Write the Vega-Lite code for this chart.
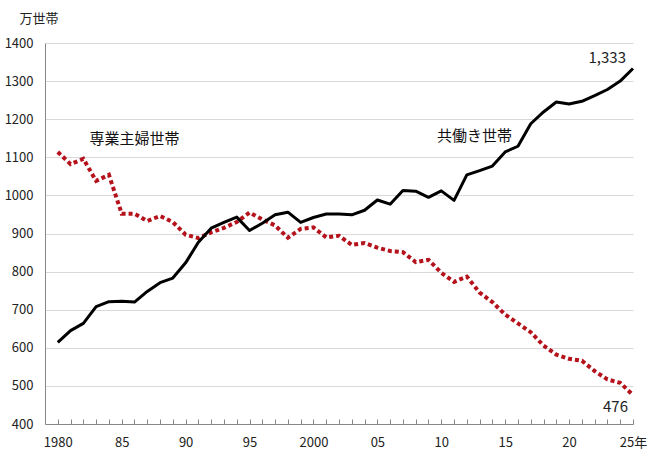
{
  "$schema": "https://vega.github.io/schema/vega-lite/v6.json",
  "width": 588,
  "height": 381,
  "autosize": {"type": "none"},
  "padding": {"left": 45, "top": 43, "right": 28, "bottom": 43},
  "background": "white",
  "config": {
    "view": {"stroke": null},
    "font": "Noto Sans CJK JP",
    "axis": {"labelFont": "Noto Sans CJK JP", "titleFont": "Noto Sans CJK JP"}
  },
  "datasets": {
    "households": [
      {"year": 1980, "series": "共働き世帯", "value": 614},
      {"year": 1981, "series": "共働き世帯", "value": 645},
      {"year": 1982, "series": "共働き世帯", "value": 664},
      {"year": 1983, "series": "共働き世帯", "value": 708},
      {"year": 1984, "series": "共働き世帯", "value": 721},
      {"year": 1985, "series": "共働き世帯", "value": 722},
      {"year": 1986, "series": "共働き世帯", "value": 720},
      {"year": 1987, "series": "共働き世帯", "value": 748},
      {"year": 1988, "series": "共働き世帯", "value": 771},
      {"year": 1989, "series": "共働き世帯", "value": 783},
      {"year": 1990, "series": "共働き世帯", "value": 823},
      {"year": 1991, "series": "共働き世帯", "value": 877},
      {"year": 1992, "series": "共働き世帯", "value": 914},
      {"year": 1993, "series": "共働き世帯", "value": 929},
      {"year": 1994, "series": "共働き世帯", "value": 943},
      {"year": 1995, "series": "共働き世帯", "value": 908},
      {"year": 1996, "series": "共働き世帯", "value": 927},
      {"year": 1997, "series": "共働き世帯", "value": 949},
      {"year": 1998, "series": "共働き世帯", "value": 956},
      {"year": 1999, "series": "共働き世帯", "value": 929},
      {"year": 2000, "series": "共働き世帯", "value": 942},
      {"year": 2001, "series": "共働き世帯", "value": 951},
      {"year": 2002, "series": "共働き世帯", "value": 951},
      {"year": 2003, "series": "共働き世帯", "value": 949},
      {"year": 2004, "series": "共働き世帯", "value": 961},
      {"year": 2005, "series": "共働き世帯", "value": 988},
      {"year": 2006, "series": "共働き世帯", "value": 977},
      {"year": 2007, "series": "共働き世帯", "value": 1013},
      {"year": 2008, "series": "共働き世帯", "value": 1011},
      {"year": 2009, "series": "共働き世帯", "value": 995},
      {"year": 2010, "series": "共働き世帯", "value": 1012},
      {"year": 2011, "series": "共働き世帯", "value": 987},
      {"year": 2012, "series": "共働き世帯", "value": 1054},
      {"year": 2013, "series": "共働き世帯", "value": 1065},
      {"year": 2014, "series": "共働き世帯", "value": 1077},
      {"year": 2015, "series": "共働き世帯", "value": 1114},
      {"year": 2016, "series": "共働き世帯", "value": 1129},
      {"year": 2017, "series": "共働き世帯", "value": 1188},
      {"year": 2018, "series": "共働き世帯", "value": 1219},
      {"year": 2019, "series": "共働き世帯", "value": 1245},
      {"year": 2020, "series": "共働き世帯", "value": 1240},
      {"year": 2021, "series": "共働き世帯", "value": 1247},
      {"year": 2022, "series": "共働き世帯", "value": 1262},
      {"year": 2023, "series": "共働き世帯", "value": 1278},
      {"year": 2024, "series": "共働き世帯", "value": 1300},
      {"year": 2025, "series": "共働き世帯", "value": 1333},
      {"year": 1980, "series": "専業主婦世帯", "value": 1114},
      {"year": 1981, "series": "専業主婦世帯", "value": 1082},
      {"year": 1982, "series": "専業主婦世帯", "value": 1096},
      {"year": 1983, "series": "専業主婦世帯", "value": 1038},
      {"year": 1984, "series": "専業主婦世帯", "value": 1054},
      {"year": 1985, "series": "専業主婦世帯", "value": 952},
      {"year": 1986, "series": "専業主婦世帯", "value": 952},
      {"year": 1987, "series": "専業主婦世帯", "value": 933},
      {"year": 1988, "series": "専業主婦世帯", "value": 946},
      {"year": 1989, "series": "専業主婦世帯", "value": 930},
      {"year": 1990, "series": "専業主婦世帯", "value": 897},
      {"year": 1991, "series": "専業主婦世帯", "value": 888},
      {"year": 1992, "series": "専業主婦世帯", "value": 903},
      {"year": 1993, "series": "専業主婦世帯", "value": 915},
      {"year": 1994, "series": "専業主婦世帯", "value": 930},
      {"year": 1995, "series": "専業主婦世帯", "value": 955},
      {"year": 1996, "series": "専業主婦世帯", "value": 937},
      {"year": 1997, "series": "専業主婦世帯", "value": 921},
      {"year": 1998, "series": "専業主婦世帯", "value": 889},
      {"year": 1999, "series": "専業主婦世帯", "value": 912},
      {"year": 2000, "series": "専業主婦世帯", "value": 916},
      {"year": 2001, "series": "専業主婦世帯", "value": 890},
      {"year": 2002, "series": "専業主婦世帯", "value": 894},
      {"year": 2003, "series": "専業主婦世帯", "value": 870},
      {"year": 2004, "series": "専業主婦世帯", "value": 875},
      {"year": 2005, "series": "専業主婦世帯", "value": 863},
      {"year": 2006, "series": "専業主婦世帯", "value": 854},
      {"year": 2007, "series": "専業主婦世帯", "value": 851},
      {"year": 2008, "series": "専業主婦世帯", "value": 825},
      {"year": 2009, "series": "専業主婦世帯", "value": 831},
      {"year": 2010, "series": "専業主婦世帯", "value": 797},
      {"year": 2011, "series": "専業主婦世帯", "value": 773},
      {"year": 2012, "series": "専業主婦世帯", "value": 787},
      {"year": 2013, "series": "専業主婦世帯", "value": 745},
      {"year": 2014, "series": "専業主婦世帯", "value": 720},
      {"year": 2015, "series": "専業主婦世帯", "value": 687},
      {"year": 2016, "series": "専業主婦世帯", "value": 664},
      {"year": 2017, "series": "専業主婦世帯", "value": 641},
      {"year": 2018, "series": "専業主婦世帯", "value": 606},
      {"year": 2019, "series": "専業主婦世帯", "value": 582},
      {"year": 2020, "series": "専業主婦世帯", "value": 571},
      {"year": 2021, "series": "専業主婦世帯", "value": 566},
      {"year": 2022, "series": "専業主婦世帯", "value": 539},
      {"year": 2023, "series": "専業主婦世帯", "value": 517},
      {"year": 2024, "series": "専業主婦世帯", "value": 508},
      {"year": 2025, "series": "専業主婦世帯", "value": 476}
    ],
    "names": [
      {"series": "専業主婦世帯", "year": 1986.0, "value": 1147},
      {"series": "共働き世帯", "year": 2012.6, "value": 1156}
    ]
  },
  "encoding": {
    "x": {
      "field": "year",
      "type": "quantitative",
      "scale": {"domain": [1979, 2025], "nice": false, "zero": false},
      "axis": {
        "title": null,
        "grid": false,
        "values": [1980, 1981, 1982, 1983, 1984, 1985, 1986, 1987, 1988, 1989, 1990, 1991, 1992, 1993, 1994, 1995, 1996, 1997, 1998, 1999, 2000, 2001, 2002, 2003, 2004, 2005, 2006, 2007, 2008, 2009, 2010, 2011, 2012, 2013, 2014, 2015, 2016, 2017, 2018, 2019, 2020, 2021, 2022, 2023, 2024, 2025],
        "labelExpr": "datum.value % 5 != 0 ? '' : (datum.value == 1980 || datum.value == 2000) ? toString(datum.value) : datum.value == 2025 ? '25年' : substring(toString(datum.value), 2)",
        "labelOverlap": false,
        "labelFlush": false,
        "labelBound": false,
        "labelFontSize": 13,
        "labelColor": "#222222",
        "labelPadding": 17,
        "domainColor": "#888888",
        "tickColor": "#888888",
        "tickSize": -5
      }
    },
    "y": {
      "field": "value",
      "type": "quantitative",
      "scale": {"domain": [400, 1400], "nice": false, "zero": false},
      "axis": {
        "title": "万世帯",
        "titleAngle": 0,
        "titleAlign": "left",
        "titleBaseline": "middle",
        "titleX": -26,
        "titleY": -25,
        "titleFontSize": 13,
        "titleFontWeight": "normal",
        "titleColor": "#222222",
        "values": [400, 500, 600, 700, 800, 900, 1000, 1100, 1200, 1300, 1400],
        "format": "d",
        "labelFontSize": 13,
        "labelColor": "#222222",
        "labelPadding": 12,
        "ticks": false,
        "domainColor": "#888888",
        "gridColor": "#d9d9d9"
      }
    }
  },
  "layer": [
    {
      "data": {"name": "households"},
      "transform": [{"filter": "datum.series == '専業主婦世帯'"}],
      "mark": {"type": "line", "color": "#B5121B", "strokeWidth": 4, "strokeDash": [4, 3], "strokeCap": "butt"}
    },
    {
      "data": {"name": "households"},
      "transform": [{"filter": "datum.series == '共働き世帯'"}],
      "mark": {"type": "line", "color": "#000000", "strokeWidth": 3, "strokeJoin": "round"}
    },
    {
      "data": {"name": "households"},
      "transform": [{"filter": "datum.year == 2025 && datum.series == '共働き世帯'"}],
      "mark": {"type": "text", "align": "right", "baseline": "middle", "dx": -7, "dy": -11, "fontSize": 15, "color": "#222222"},
      "encoding": {"text": {"field": "value", "type": "quantitative", "format": ","}}
    },
    {
      "data": {"name": "households"},
      "transform": [{"filter": "datum.year == 2025 && datum.series == '専業主婦世帯'"}],
      "mark": {"type": "text", "align": "right", "baseline": "middle", "dx": -5, "dy": 12, "fontSize": 15, "color": "#222222"},
      "encoding": {"text": {"field": "value", "type": "quantitative", "format": ","}}
    },
    {
      "data": {"name": "names"},
      "mark": {"type": "text", "align": "center", "baseline": "middle", "fontSize": 15, "color": "#111111"},
      "encoding": {"text": {"field": "series", "type": "nominal"}}
    }
  ]
}
